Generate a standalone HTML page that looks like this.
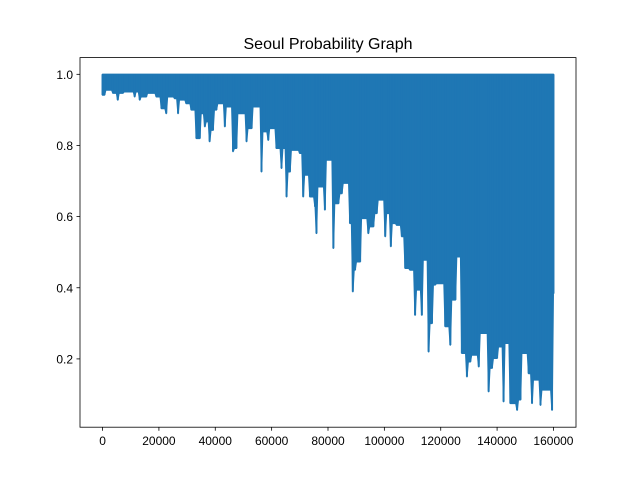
<!DOCTYPE html>
<html><head><meta charset="utf-8"><style>
body{margin:0;background:#fff;font-family:"Liberation Sans","DejaVu Sans",sans-serif;}
</style></head><body>
<svg id="chart" width="640" height="480" xmlns="http://www.w3.org/2000/svg">
<rect width="640" height="480" fill="#fff"/>
<text x="328" y="49" font-size="16" text-anchor="middle" fill="#000">Seoul Probability Graph</text>
<g id="plot"></g>
<rect x="80" y="57.6" width="496" height="369.6" fill="none" stroke="#000" stroke-width="0.8"/>
<g id="axes"></g>
</svg>
<script>
const xTicks=[0,20000,40000,60000,80000,100000,120000,140000,160000];
const yTicks=[0.2,0.4,0.6,0.8,1.0];
const lowX=[0,700,1900,3700,5400,7200,9600,11400,12000,13200,15500,17300,19100,20900,22600,23800,25600,26800,28000,29700,31500,33300,34500,35100,36300,36900,38000,39200,40400,42200,43400,44600,46300,47500,49300,51100,52900,54600,56400,57600,58800,60600,61700,63500,64700,65300,66500,67700,70000,71200,72400,73600,75400,75900,77100,78900,80700,81900,83700,84900,86600,87800,88800,89600,91400,93200,94300,96100,97300,99100,100300,101500,102300,103200,104400,106200,107400,109100,110900,112100,113300,114500,115700,116900,118000,119800,121600,123400,125200,126300,127500,129300,130500,132300,133500,134600,137000,138200,140000,141200,142300,143500,144700,147100,148300,150000,151200,152400,153600,155400,157200,158300,159500,160000];
const lowV=[0.942,0.942,0.956,0.947,0.928,0.947,0.951,0.937,0.951,0.928,0.937,0.947,0.937,0.904,0.890,0.937,0.932,0.890,0.928,0.918,0.900,0.820,0.820,0.890,0.853,0.867,0.811,0.843,0.900,0.918,0.853,0.909,0.783,0.792,0.890,0.811,0.848,0.909,0.726,0.839,0.815,0.848,0.792,0.736,0.792,0.656,0.726,0.787,0.778,0.656,0.717,0.656,0.628,0.553,0.684,0.619,0.759,0.511,0.637,0.665,0.694,0.581,0.389,0.450,0.473,0.595,0.553,0.572,0.609,0.647,0.544,0.609,0.516,0.581,0.576,0.544,0.455,0.450,0.323,0.394,0.323,0.478,0.220,0.300,0.408,0.412,0.291,0.239,0.366,0.487,0.216,0.150,0.192,0.211,0.178,0.272,0.108,0.174,0.202,0.234,0.080,0.244,0.075,0.056,0.085,0.216,0.159,0.075,0.141,0.070,0.113,0.113,0.056,0.384];
const X0=-8000,X1=168000,Y0=0.008,Y1=1.047;
const sx=v=>80+(v-X0)/(X1-X0)*496;
const sy=v=>427.2-(v-Y0)/(Y1-Y0)*369.6;
const NS="http://www.w3.org/2000/svg";
const plot=document.getElementById('plot'),axes=document.getElementById('axes');
const C="#1f77b4";
const n=lowX.length;
let pts=[sx(lowX[0])+","+sy(1.0),sx(lowX[n-1])+","+sy(1.0)];
for(let i=n-1;i>=0;i--){
 pts.push(sx(lowX[i])+","+sy(lowV[i]));
 if(i>0){const sh=Math.max(lowV[i],lowV[i-1]);
  pts.push((sx(lowX[i])-1.2)+","+sy(sh));
  pts.push((sx(lowX[i-1])+1.2)+","+sy(sh));}
}
const band=document.createElementNS(NS,'polygon');


band.setAttribute('points',pts.join(' '));band.setAttribute('fill',C);band.setAttribute('stroke',C);band.setAttribute('stroke-width','1.5');band.setAttribute('stroke-linejoin','round');
plot.appendChild(band);
lowX.forEach((x,i)=>{
 const l=document.createElementNS(NS,'line');
 
 
 l.setAttribute('x1',sx(x));l.setAttribute('x2',sx(x));l.setAttribute('y1',sy(1.0));l.setAttribute('y2',sy(lowV[i]));
 l.setAttribute('stroke',C);l.setAttribute('stroke-width','2');
 plot.appendChild(l);
});
xTicks.forEach(t=>{
 const l=document.createElementNS(NS,'line');
 
 
 l.setAttribute('x1',sx(t));l.setAttribute('x2',sx(t));l.setAttribute('y1',427.2);l.setAttribute('y2',430.7);l.setAttribute('stroke','#000');l.setAttribute('stroke-width','0.8');
 axes.appendChild(l);
 const tx=document.createElementNS(NS,'text');
 
 
 tx.setAttribute('x',sx(t));tx.setAttribute('y',445);tx.setAttribute('font-size','12');tx.setAttribute('text-anchor','middle');
 tx.textContent=t;axes.appendChild(tx);
});
yTicks.forEach(t=>{
 const l=document.createElementNS(NS,'line');
 
 
 l.setAttribute('x1',76.5);l.setAttribute('x2',80);l.setAttribute('y1',sy(t));l.setAttribute('y2',sy(t));l.setAttribute('stroke','#000');l.setAttribute('stroke-width','0.8');
 axes.appendChild(l);
 const tx=document.createElementNS(NS,'text');
 
 
 tx.setAttribute('x',73);tx.setAttribute('y',sy(t)+4.5);tx.setAttribute('font-size','12');tx.setAttribute('text-anchor','end');
 tx.textContent=t.toFixed(1);axes.appendChild(tx);
});
</script>
</body></html>
